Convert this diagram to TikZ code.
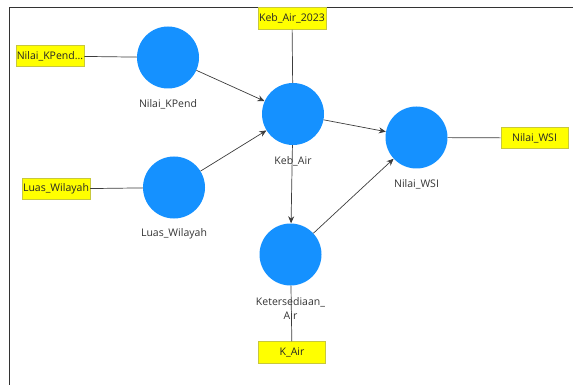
\documentclass[tikz,border=0pt]{standalone}
\usepackage{fontspec}
\setmainfont{Open Sans}
\usetikzlibrary{arrows.meta}
\definecolor{lvblue}{RGB}{21,145,255}
\definecolor{ind}{RGB}{255,255,0}
\definecolor{indb}{RGB}{200,200,60}
\definecolor{edge}{RGB}{60,60,60}
\tikzset{
  lv/.style={circle,fill=lvblue,draw=none,minimum size=62pt,inner sep=0pt},
  mv/.style={rectangle,fill=ind,draw=indb,line width=0.6pt,minimum width=67pt,minimum height=21.5pt,inner sep=1pt,font=\fontsize{10.5}{12}\selectfont,text=black!85},
  lab/.style={font=\fontsize{10.5}{14}\selectfont,text=black!80,align=center,inner sep=0pt},
  path/.style={draw=edge,line width=0.7pt,-{Stealth[length=7pt,width=6pt]}},
  load/.style={draw=edge,line width=0.7pt}
}
\begin{document}
\begin{tikzpicture}[x=1pt,y=-1pt]
\useasboundingbox (0,0) rectangle (573,385);
\draw[black!80,line width=0.9pt] (9.5,385) -- (9.5,7) -- (573,7);
% labels
\node[lab] (lkp) at (168,104) {Nilai\_KPend};
\node[lab] (lka) at (293,161) {Keb\_Air};
\node[lab] (llw) at (174,234) {Luas\_Wilayah};
\node[lab] (lws) at (416.5,184) {Nilai\_WSI};
\node[lab] (lkt) at (290.5,308.5) {Ketersediaan\_\\Air};
% latent variables
\node[lv] (kp) at (168,57.5) {};
\node[lv] (ka) at (293,114) {};
\node[lv] (lw) at (174,187.5) {};
\node[lv] (ws) at (416.5,137.5) {};
\node[lv] (kt) at (290.5,254.5) {};
% indicators
\node[mv] (ikp) at (50,56) {Nilai\_KPend...};
\node[mv] (ika) at (292,18.5) {Keb\_Air\_2023};
\node[mv] (ilw) at (56,189) {Luas\_Wilayah};
\node[mv] (iws) at (534.5,138) {Nilai\_WSI};
\node[mv] (ikt) at (292,352.5) {K\_Air};
% loadings
\draw[load] (ikp) -- (kp);
\draw[load] (ika) -- (ka);
\draw[load] (ilw) -- (lw);
\draw[load] (iws) -- (ws);
\draw[load] (ikt) -- (kt);
% paths
\draw[path] (kp) -- (ka);
\draw[path] (lw) -- (ka);
\draw[path] (ka) -- (ws);
\draw[path] (ka) -- (kt);
\draw[path] (kt) -- (ws);
\end{tikzpicture}
\end{document}
